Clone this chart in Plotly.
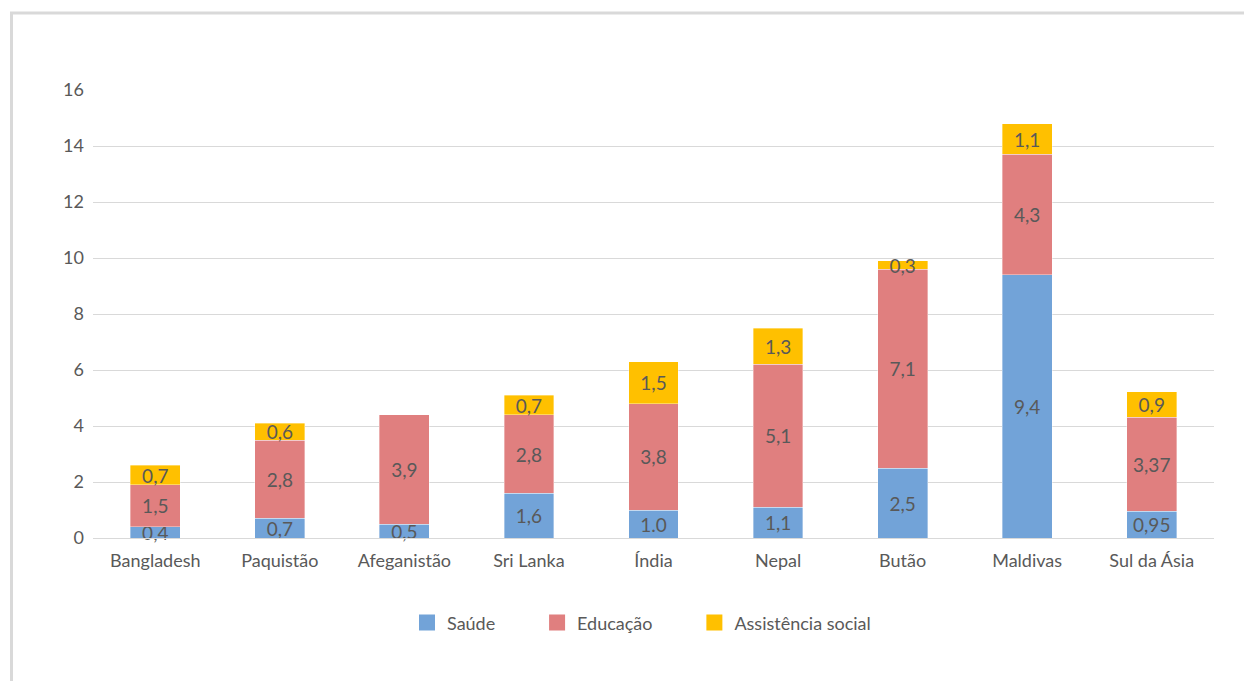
import plotly.graph_objects as go

categories = ["Bangladesh", "Paquistão", "Afeganistão", "Sri Lanka", "Índia",
              "Nepal", "Butão", "Maldivas", "Sul da Ásia"]
saude = [0.4, 0.7, 0.5, 1.6, 1.0, 1.1, 2.5, 9.4, 0.95]
educacao = [1.5, 2.8, 3.9, 2.8, 3.8, 5.1, 7.1, 4.3, 3.37]
assistencia = [0.7, 0.6, 0.0, 0.7, 1.5, 1.3, 0.3, 1.1, 0.9]
saude_txt = ["0,4", "0,7", "0,5", "1,6", "1.0", "1,1", "2,5", "9,4", "0,95"]
educacao_txt = ["1,5", "2,8", "3,9", "2,8", "3,8", "5,1", "7,1", "4,3", "3,37"]
assistencia_txt = ["0,7", "0,6", "", "0,7", "1,5", "1,3", "0,3", "1,1", "0,9"]
y_ticks = [0, 2, 4, 6, 8, 10, 12, 14, 16]

FONT = "Lato"
TXT = "#595959"
PAD = "\u00a0" * 8

series = [
    ("Saúde", saude, saude_txt, "#72A3D8", PAD),
    ("Educação", educacao, educacao_txt, "#E07F7F", PAD),
    ("Assistência social", assistencia, assistencia_txt, "#FFC000", ""),
]

fig = go.Figure()
for name, vals, txt, col, pad in series:
    fig.add_trace(go.Bar(
        x=categories, y=vals, name=name, text=txt,
        texttemplate="%{text}", textposition="inside", textangle=0,
        insidetextanchor="middle", constraintext="none", cliponaxis=False,
        insidetextfont=dict(family=FONT, size=19, color=TXT),
        marker=dict(color=col, line=dict(width=0.6, color="rgba(255,255,255,0.6)")),
        hoverinfo="skip", showlegend=False, legendgroup=name,
    ))
# legend entries with large square keys
for name, vals, txt, col, pad in series:
    fig.add_trace(go.Scatter(
        x=[None], y=[None], mode="markers", name=name + pad, legendgroup=name,
        marker=dict(symbol="square", size=21, color=col), hoverinfo="skip",
    ))

fig.update_layout(
    barmode="stack", bargap=0.6,
    width=1244, height=681,
    margin=dict(l=93, r=30, t=90, b=143),
    paper_bgcolor="white", plot_bgcolor="white",
    font=dict(family=FONT, size=18, color=TXT),
    showlegend=True,
    legend=dict(orientation="h", x=(407 - 93) / 1121, xanchor="left", y=-0.148, yanchor="top",
                font=dict(family=FONT, size=18, color=TXT), traceorder="normal",
                itemwidth=30, itemsizing="trace"),
    xaxis=dict(showgrid=False, showline=True, linecolor="#D9D9D9", linewidth=1,
               ticks="", ticklabelstandoff=6,
               tickfont=dict(family=FONT, size=18, color=TXT)),
    yaxis=dict(range=[0, 16], tickvals=y_ticks, showgrid=True, gridcolor="#D9D9D9",
               gridwidth=1, zeroline=False, showline=False, ticks="",
               ticklabelstandoff=8, tickfont=dict(family=FONT, size=18, color=TXT)),
    shapes=[dict(type="rect", xref="paper", yref="paper",
                 x0=-81.5 / 1121, x1=1.2, y0=-0.5, y1=1 + 77 / 448,
                 line=dict(color="#D9D9D9", width=3), fillcolor="rgba(0,0,0,0)",
                 layer="below")],
)

fig.write_html("out.html")
